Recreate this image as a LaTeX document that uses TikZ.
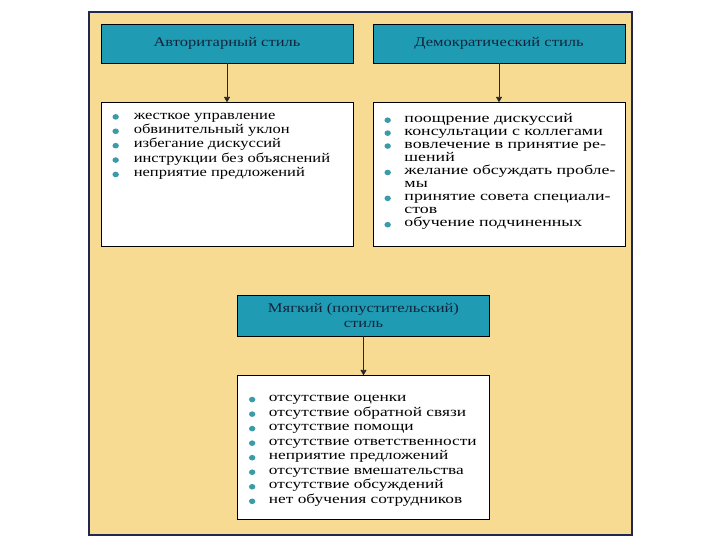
\documentclass[tikz,border=0pt]{standalone}
\usepackage{fontspec}
\setmainfont{Liberation Serif}
\newfontfamily\stylefont[FakeStretch=1.24]{Liberation Serif}
\newfontfamily\widefont[FakeStretch=1.34]{Liberation Serif}
\newfontfamily\midfont[FakeStretch=1.3]{Liberation Serif}
\usetikzlibrary{arrows.meta,positioning}
\definecolor{sand}{HTML}{F7DB93}
\definecolor{frame}{HTML}{23264F}
\definecolor{tealhead}{HTML}{1F9BB4}
\definecolor{darkink}{HTML}{13243A}
\definecolor{dotteal}{HTML}{3C9BA8}
\newcommand{\dotitem}{\tikz[baseline=-0.35ex]\fill[dotteal] (0,0) ellipse (2.4pt and 2.1pt);}

\begin{document}
\begin{tikzpicture}[
  x=0.75pt,y=-0.75pt,
  node distance=29.25pt,
  every node/.style={font=\stylefont\fontsize{10}{10.8}\selectfont},
  head/.style={draw=black,fill=tealhead,text=darkink,minimum width=189pt,minimum height=29.25pt,inner sep=0pt,align=center},
  listbox/.style={draw=black,fill=white,minimum width=189pt,minimum height=108pt,inner sep=0pt},
  listtext/.style={anchor=north west,align=left,inner sep=0pt},
  arr/.style={-{Triangle[length=4pt,width=4.5pt]},draw=black!85,line width=0.6pt}
]
\useasboundingbox (0,0) rectangle (720,540);
\draw[draw=frame,fill=sand,line width=1.5pt] (89,12) rectangle (632,535);

\node[head] (autoc) at (227,43.5) {Авторитарный стиль};
\node[head] (democ) at (499,43.5) {Демократический стиль};
\node[listbox,below=of autoc] (autolist) {};
\node[listbox,below=of democ] (demolist) {};
\node[head,minimum height=30.75pt,font=\stylefont\fontsize{10}{11.2}\selectfont] (lais) at (363.5,315.5) {Мягкий (попустительский)\\стиль};
\node[listbox,below=of lais] (laislist) {};

% lists
\node[listtext] (autoitems) at ([xshift=8.6pt,yshift=-4.8pt]autolist.north west)
  {\begin{tabular}{@{}p{16pt}@{}l@{}}
   \dotitem & жесткое управление\\
   \dotitem & обвинительный уклон\\
   \dotitem & избегание дискуссий\\
   \dotitem & инструкции без объяснений\\
   \dotitem & неприятие предложений
   \end{tabular}};
\node[listtext,font=\widefont\fontsize{10}{9.7}\selectfont] (demoitems) at ([xshift=8.6pt,yshift=-8pt]demolist.north west)
  {\begin{tabular}{@{}p{15pt}@{}l@{}}
   \dotitem & поощрение дискуссий\\
   \dotitem & консультации с коллегами\\
   \dotitem & вовлечение в принятие ре-\\
            & шений\\
   \dotitem & желание обсуждать пробле-\\
            & мы\\
   \dotitem & принятие совета специали-\\
            & стов\\
   \dotitem & обучение подчиненных
   \end{tabular}};
\node[listtext,font=\midfont\fontsize{10}{10.9}\selectfont] (laisitems) at ([xshift=8.6pt,yshift=-12pt]laislist.north west)
  {\begin{tabular}{@{}p{15pt}@{}l@{}}
   \dotitem & отсутствие оценки\\
   \dotitem & отсутствие обратной связи\\
   \dotitem & отсутствие помощи\\
   \dotitem & отсутствие ответственности\\
   \dotitem & неприятие предложений\\
   \dotitem & отсутствие вмешательства\\
   \dotitem & отсутствие обсуждений\\
   \dotitem & нет обучения сотрудников
   \end{tabular}};

\draw[arr] (autoc) -- (autolist);
\draw[arr] (democ) -- (demolist);
\draw[arr] (lais) -- (laislist);
\end{tikzpicture}
\end{document}
